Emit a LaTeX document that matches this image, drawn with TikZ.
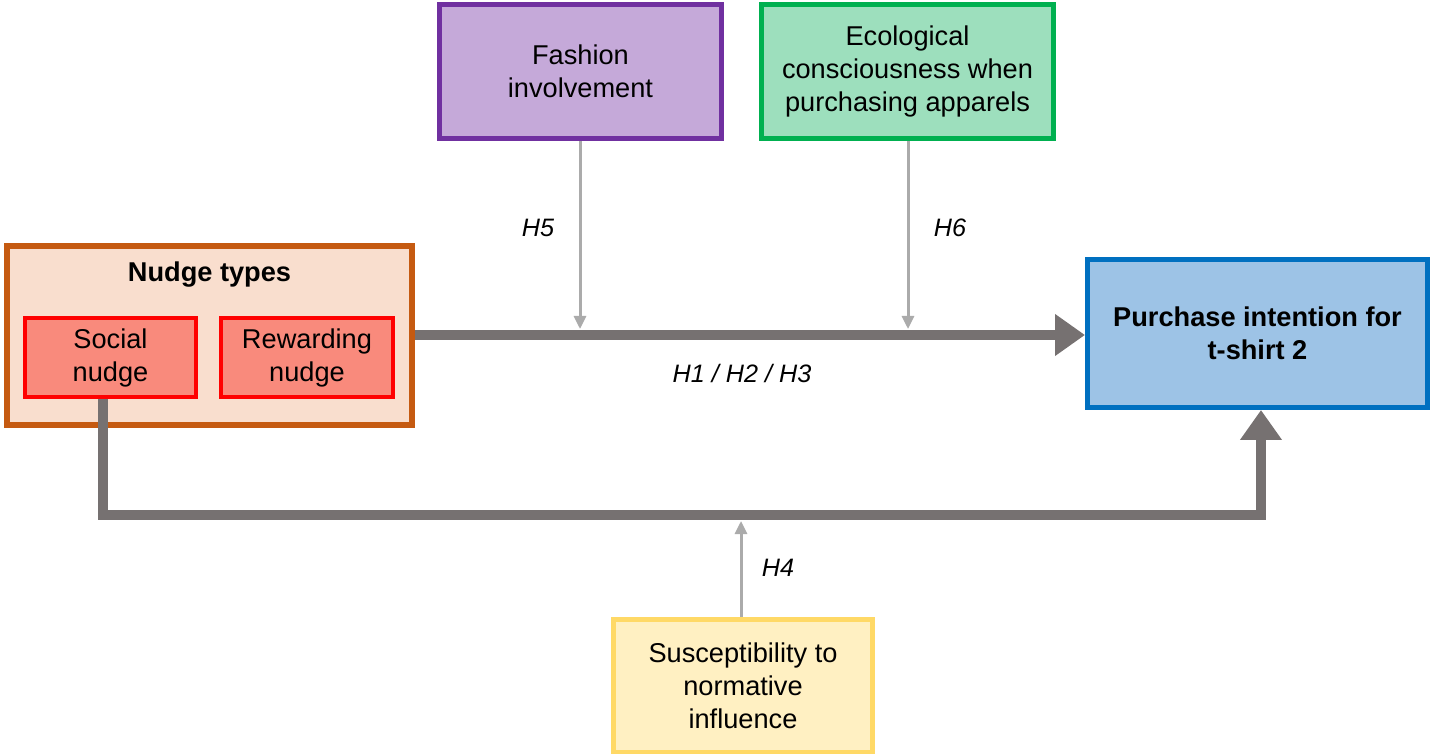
\documentclass[tikz,border=0pt]{standalone}
\usepackage{fontspec}
\setmainfont{Liberation Sans}
\usetikzlibrary{arrows.meta}
\definecolor{thickgray}{HTML}{767171}
\definecolor{thingray}{HTML}{ABABAB}
\definecolor{purpleB}{HTML}{7030A0}
\definecolor{purpleF}{HTML}{C5A9D9}
\definecolor{greenB}{HTML}{00B050}
\definecolor{greenF}{HTML}{9DDFBD}
\definecolor{orangeB}{HTML}{C55A11}
\definecolor{orangeF}{HTML}{F9DECE}
\definecolor{redB}{HTML}{FF0000}
\definecolor{redF}{HTML}{F98A7C}
\definecolor{blueB}{HTML}{0070C0}
\definecolor{blueF}{HTML}{9DC3E6}
\definecolor{yellowB}{HTML}{FFD966}
\definecolor{yellowF}{HTML}{FFF0C2}
\tikzset{
  box/.style={rectangle, inner sep=0pt, align=center, font=\fontsize{13.6}{16.5}\selectfont},
  thick arrow/.style={draw=thickgray, line width=5pt, -{Triangle[length=15pt,width=20pt]}},
  thin arrow/.style={draw=thingray, line width=1.5pt, -{Triangle[length=6.5pt,width=6pt]}},
  hlabel/.style={font=\fontsize{12.6}{15}\selectfont\itshape, inner sep=0pt}
}
\begin{document}
\begin{tikzpicture}[x=0.5pt,y=-0.5pt]
\useasboundingbox (0,0) rectangle (1431,754);
% boxes
\node[box, draw=purpleB, fill=purpleF, line width=2.5pt, minimum width=141pt, minimum height=67pt] (fash) at (580.5,71.5) {Fashion\\involvement};
\node[box, draw=greenB, fill=greenF, line width=2.5pt, minimum width=146pt, minimum height=67pt] (eco) at (907.5,71.5) {Ecological\\consciousness when\\purchasing apparels};
\node[box, draw=orangeB, fill=orangeF, line width=3pt, minimum width=202.5pt, minimum height=89.5pt] (nudge) at (209.5,335.5) {};
\node[box, font=\fontsize{13.6}{16.5}\selectfont\bfseries] (nudgetitle) at (209.5,275) {Nudge types};
\node[box, draw=redB, fill=redF, line width=2pt, minimum width=85.5pt, minimum height=39.5pt] (social) at (110.5,357.5) {Social\\nudge};
\node[box, draw=redB, fill=redF, line width=2pt, minimum width=86pt, minimum height=39.5pt] (reward) at (307,357.5) {Rewarding\\nudge};
\node[box, draw=blueB, fill=blueF, line width=2.5pt, minimum width=170pt, minimum height=74pt, font=\fontsize{13.6}{16.5}\selectfont\bfseries] (purch) at (1257.5,333.5) {Purchase intention for\\t-shirt 2};
\node[box, draw=yellowB, fill=yellowF, line width=2.5pt, minimum width=129.5pt, minimum height=66.5pt] (susc) at (743,686) {Susceptibility to\\normative\\influence};
% connectors
\draw[thick arrow] (nudge.east |- 0,335) -- (purch.west |- 0,335);
\draw[draw=thickgray, line width=5pt, line join=miter, -{Triangle[length=15pt,width=20pt]}]
  (social.south -| 103,0) -- (103,515) -- (1261,515) -- (purch.south -| 1261,0);
\draw[thin arrow] (fash.south -| 580,0) -- (580,329);
\draw[thin arrow] (eco.south -| 908,0) -- (908,329);
\draw[thin arrow] (susc.north -| 741,0) -- (741,521);
% labels
\node[hlabel] (h5) at (538,228) {H5};
\node[hlabel] (h6) at (950,228) {H6};
\node[hlabel] (h123) at (742,373) {H1 / H2 / H3};
\node[hlabel] (h4) at (778,568) {H4};
\end{tikzpicture}
\end{document}
